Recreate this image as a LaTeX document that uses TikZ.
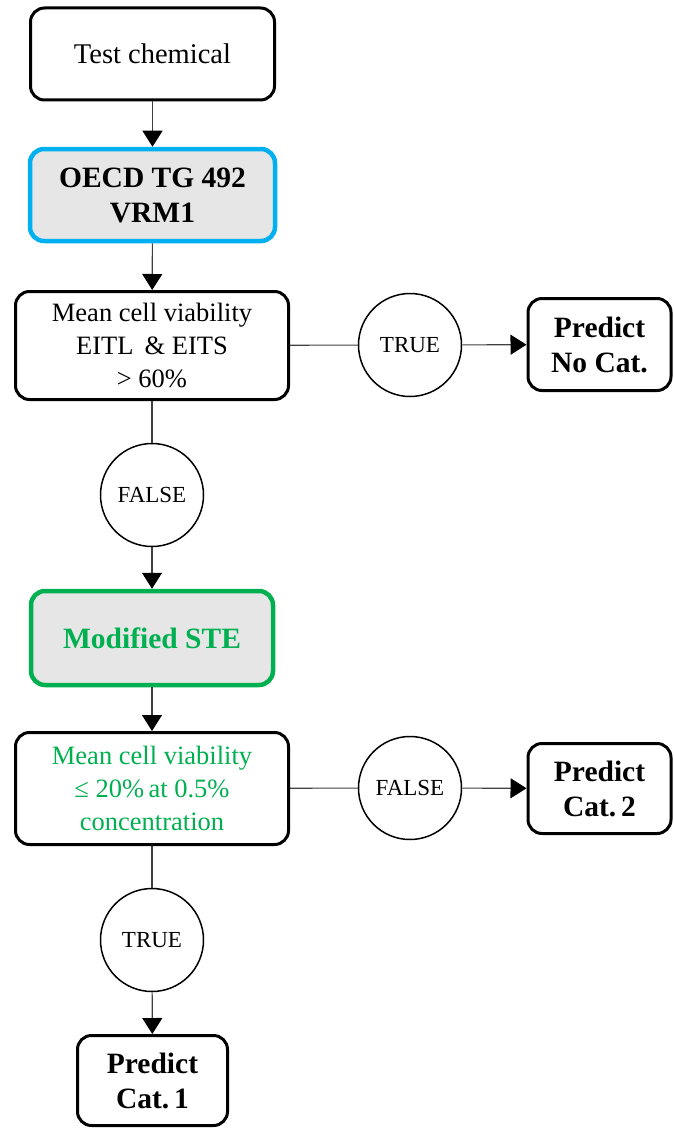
\documentclass[tikz,border=0pt]{standalone}
\usepackage{fontspec}
\setmainfont{Liberation Serif}
\usetikzlibrary{arrows.meta}
\definecolor{oblue}{HTML}{00B0F0}
\definecolor{ogreen}{HTML}{00B050}
\definecolor{ogray}{HTML}{E6E6E6}
\tikzset{
  box/.style={draw=black, line width=3pt, rounded corners=14pt, align=center, inner sep=0pt, fill=white},
  normtext/.style={font=\fontsize{26.5}{33}\selectfont},
  boldtext/.style={font=\fontsize{29.5}{35}\selectfont\bfseries},
  decision/.style={draw=black, circle, line width=1.5pt, minimum size=103pt, inner sep=0pt, font=\fontsize{23}{26}\selectfont},
  conn/.style={line width=1.1pt, draw=black!75},
  arr/.style={conn, -{Triangle[length=16pt,width=20pt,color=black,fill=black]}},
}
\begin{document}
\begin{tikzpicture}[x=1pt,y=-1pt]
\useasboundingbox (0,0) rectangle (674,1129);
\node[box, font=\fontsize{28.5}{33}\selectfont, minimum width=244pt, minimum height=92pt] (tc) at (152.5,54) {Test chemical};
\node[box, boldtext, draw=oblue, line width=4.5pt, fill=ogray, minimum width=245pt, minimum height=92pt] (oecd) at (152.5,195) {OECD TG 492\\VRM1};
\node[box, normtext, minimum width=273pt, minimum height=108pt] (m1) at (152,345.5) {Mean cell viability\\EITL\,\ \& EITS\\> 60\%};
\node[decision] (t1) at (410,345) {TRUE};
\node[box, boldtext, minimum width=143pt, minimum height=92pt] (nc) at (599.5,344.5) {Predict\\No Cat.};
\node[decision] (f1) at (152,495) {FALSE};
\node[box, boldtext, text=ogreen, draw=ogreen, line width=4.5pt, fill=ogray, minimum width=242pt, minimum height=94pt] (ste) at (152,638) {Modified STE};
\node[box, normtext, text=ogreen, minimum width=273pt, minimum height=112pt] (m2) at (152,788.5) {Mean cell viability\\≤ 20\%\,at 0.5\%\\concentration};
\node[decision] (f2) at (410,788) {FALSE};
\node[box, boldtext, minimum width=143pt, minimum height=90pt] (c2) at (599.5,788.5) {Predict\\Cat.\,2};
\node[decision] (t2) at (152,940) {TRUE};
\node[box, boldtext, minimum width=150pt, minimum height=90pt] (c1) at (152.5,1080.5) {Predict\\Cat.\,1};
\draw[arr] (tc) -- (oecd);
\draw[arr] (oecd) -- (m1);
\draw[conn] (m1) -- (t1);
\draw[arr] (t1) -- (nc);
\draw[conn] (m1) -- (f1);
\draw[arr] (f1) -- (ste);
\draw[arr] (ste) -- (m2);
\draw[conn] (m2) -- (f2);
\draw[arr] (f2) -- (c2);
\draw[conn] (m2) -- (t2);
\draw[arr] (t2) -- (c1);
\end{tikzpicture}
\end{document}
